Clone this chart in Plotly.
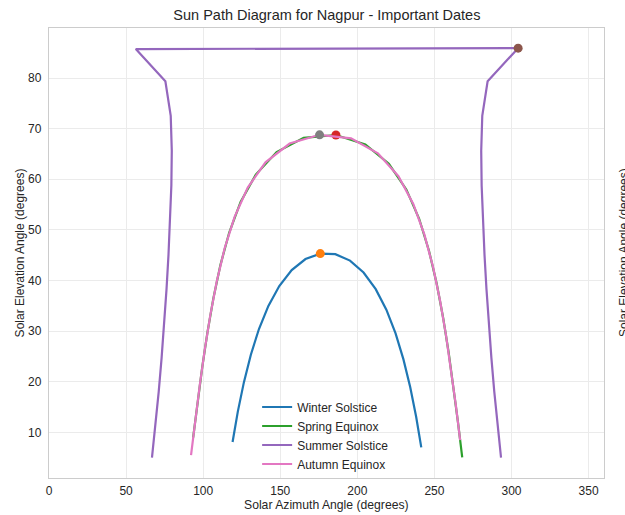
import plotly.graph_objects as go

# ---- data (azimuth deg, elevation deg) ----
winter_az = [119.07, 122.48, 126.40, 130.93, 136.19, 142.31, 149.37, 157.43, 166.38, 175.97,
             185.73, 195.24, 204.04, 211.93, 218.82, 224.80, 229.91, 234.32, 238.15, 241.48]
winter_el = [8.09, 14.10, 19.87, 25.34, 30.41, 34.98, 38.91, 42.05, 44.23, 45.31,
             45.20, 43.93, 41.57, 38.29, 34.23, 29.55, 24.41, 18.89, 13.07, 7.03]

spring_az = [93.49, 96.33, 99.38, 102.76, 106.62, 111.22, 116.91, 124.28, 134.14, 147.64, 165.20,
             186.12, 205.19, 220.43, 231.76, 240.09, 246.42, 251.46, 255.62, 259.18, 262.36, 265.27, 268.04]
spring_el = [8.95, 15.91, 22.84, 29.71, 36.47, 43.09, 49.48, 55.51, 60.93, 65.37, 68.19,
             68.74, 66.86, 63.06, 57.99, 52.19, 45.94, 39.41, 32.70, 25.88, 18.97, 12.02, 5.04]

summer_az = [66.79, 69.11, 71.19, 73.06, 74.73, 76.22, 77.51, 78.59, 79.36, 79.65, 78.96, 75.49, 56.30,
             304.30, 284.51, 281.04, 280.35, 280.64, 281.41, 282.49, 283.78, 285.27, 286.94, 288.81, 290.89, 293.21]
summer_el = [5.02, 11.51, 18.09, 24.75, 31.47, 38.24, 45.05, 51.89, 58.76, 65.63, 72.53, 79.34, 85.72,
             85.90, 79.34, 72.53, 65.63, 58.76, 51.89, 45.05, 38.24, 31.47, 24.75, 18.09, 11.51, 5.02]

autumn_az = [92.13, 94.91, 97.85, 101.04, 104.64, 108.83, 113.94, 120.40, 128.92, 140.43, 156.09,
             175.50, 195.94, 213.35, 226.66, 236.29, 243.51, 249.12, 253.65, 257.48, 260.83, 263.86, 266.69]
autumn_el = [5.50, 12.48, 19.43, 26.33, 33.15, 39.85, 46.36, 52.58, 58.37, 63.34, 67.06,
             68.78, 68.08, 65.13, 60.59, 55.12, 49.06, 42.66, 36.03, 29.25, 22.38, 15.45, 8.48]

series_names = ["Winter Solstice", "Spring Equinox", "Summer Solstice", "Autumn Equinox"]
line_colors = ["#1f77b4", "#2ca02c", "#9467bd", "#e377c2"]
peak_colors = ["#ff7f0e", "#d62728", "#8c564b", "#7f7f7f"]
x_ticks = [0, 50, 100, 150, 200, 250, 300, 350]
y_ticks = [10, 20, 30, 40, 50, 60, 70, 80]

FONT = "Arial, Liberation Sans, sans-serif"
TXT = "#262626"

fig = go.Figure()
all_series = [(winter_az, winter_el), (spring_az, spring_el), (summer_az, summer_el), (autumn_az, autumn_el)]
for (az, el), name, lc, pc in zip(all_series, series_names, line_colors, peak_colors):
    fig.add_trace(go.Scatter(x=az, y=el, mode="lines", name=name,
                             line=dict(color=lc, width=2.2)))
    i = max(range(len(el)), key=lambda k: el[k])
    fig.add_trace(go.Scatter(x=[az[i]], y=[el[i]], mode="markers", showlegend=False,
                             marker=dict(color=pc, size=9)))

axis_common = dict(showgrid=True, gridcolor="#ebebeb", gridwidth=1, zeroline=False,
                   showline=True, linecolor="#cccccc", linewidth=1.3, mirror=True,
                   ticks="", automargin=False, tickfont=dict(family=FONT, size=12, color=TXT))

fig.update_layout(
    width=625, height=515,
    margin=dict(l=49, r=21, t=28, b=37, autoexpand=False),
    paper_bgcolor="white", plot_bgcolor="white",
    font=dict(family=FONT, color=TXT),
    title=dict(text="Sun Path Diagram for Nagpur - Important Dates", x=0.523, xanchor="center",
               y=1 - 15 / 515, yanchor="middle", font=dict(family=FONT, size=14.5, color=TXT)),
    xaxis=dict(range=[0, 360], tickvals=x_ticks, ticklabelstandoff=1, **axis_common),
    yaxis=dict(range=[0.98, 89.88], tickvals=y_ticks, ticklabelstandoff=4,
               title=dict(text="Solar Elevation Angle (degrees)", font=dict(family=FONT, size=12, color=TXT), standoff=0),
               **axis_common),
    legend=dict(x=0.375, y=0.19, xanchor="left", yanchor="top", bgcolor="rgba(0,0,0,0)",
                font=dict(family=FONT, size=12, color=TXT), tracegroupgap=0, itemwidth=30),
    showlegend=True,
)

# x-axis title
fig.add_annotation(text="Solar Azimuth Angle (degrees)", xref="paper", yref="paper",
                   x=0.5, y=-(505 - 478) / 450, xanchor="center", yanchor="middle",
                   showarrow=False, font=dict(family=FONT, size=12.2, color=TXT))

# label of the neighbouring panel, cut by the right edge of the image
fig.add_annotation(text="Solar Elevation Angle (degrees)", xref="paper", yref="paper",
                   x=(624 - 49) / 555, y=0.5, xanchor="center", yanchor="middle",
                   textangle=-90, showarrow=False, font=dict(family=FONT, size=12, color=TXT))

fig.write_html("out.html")
